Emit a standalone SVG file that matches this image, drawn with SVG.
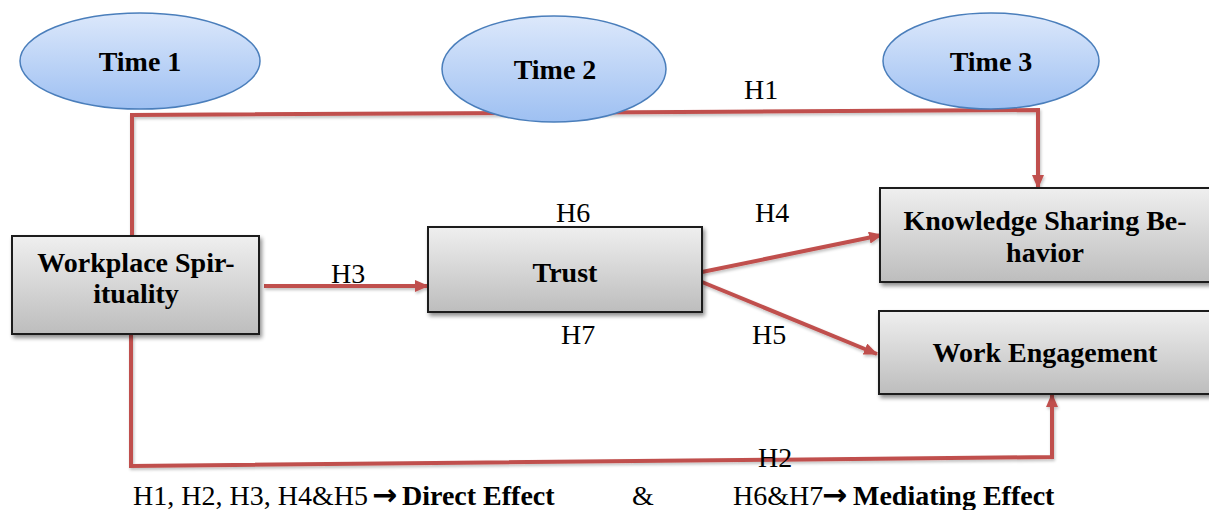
<svg xmlns="http://www.w3.org/2000/svg" width="1209" height="510" viewBox="0 0 1209 510">
<style>
  text { font-family: "Liberation Serif", "Times New Roman", serif; font-size: 28px; fill: #000; }
  .b { font-weight: bold; }
  .arr { font-family: "DejaVu Sans", sans-serif; font-weight: bold; font-size: 30px; }
  .ell { fill: url(#gEll); stroke: #4A7EBB; stroke-width: 1.5; }
  .box { fill: url(#gBox); stroke: #1a1a1a; stroke-width: 2; filter: url(#sh); }
  .con { fill: none; stroke: #C0504D; stroke-width: 4; stroke-linejoin: miter; }
</style>
<defs>
  <linearGradient id="gEll" x1="0" y1="0" x2="0" y2="1">
    <stop offset="0" stop-color="#DCE8FB"/>
    <stop offset="1" stop-color="#9EC0F2"/>
  </linearGradient>
  <linearGradient id="gBox" x1="0" y1="0" x2="0" y2="1">
    <stop offset="0" stop-color="#EFEFEF"/>
    <stop offset="1" stop-color="#BDBDBD"/>
  </linearGradient>
  <filter id="sh" x="-10%" y="-10%" width="130%" height="140%">
    <feGaussianBlur in="SourceAlpha" stdDeviation="2"/>
    <feOffset dx="2" dy="3" result="o"/>
    <feComponentTransfer><feFuncA type="linear" slope="0.45"/></feComponentTransfer>
    <feMerge><feMergeNode/><feMergeNode in="SourceGraphic"/></feMerge>
  </filter>
  <filter id="lsh" filterUnits="userSpaceOnUse" x="0" y="0" width="1209" height="510">
    <feGaussianBlur in="SourceAlpha" stdDeviation="1.5"/>
    <feOffset dx="1" dy="2" result="o"/>
    <feComponentTransfer><feFuncA type="linear" slope="0.25"/></feComponentTransfer>
    <feMerge><feMergeNode/><feMergeNode in="SourceGraphic"/></feMerge>
  </filter>
  <marker id="ah" markerUnits="userSpaceOnUse" markerWidth="14" markerHeight="12" refX="13" refY="6" orient="auto">
    <path d="M0,0 L14,6 L0,12 z" fill="#C0504D"/>
  </marker>
</defs>

<g id="connectors" filter="url(#lsh)">
  <polyline id="c-h1" class="con" points="132,236 132,115 1038,110 1038,188" marker-end="url(#ah)"/>
  <polyline id="c-h2" class="con" points="131,334 131,466 1052,457 1052,394" marker-end="url(#ah)"/>
  <line id="c-h3" class="con" x1="264" y1="286" x2="428" y2="286" marker-end="url(#ah)"/>
  <line id="c-h4" class="con" x1="702" y1="272" x2="882" y2="235" marker-end="url(#ah)"/>
  <line id="c-h5" class="con" x1="702" y1="282" x2="877" y2="354" marker-end="url(#ah)"/>
</g>

<g id="time1">
  <ellipse class="ell" cx="140" cy="61" rx="120" ry="48"/>
  <text class="b" x="140" y="71" text-anchor="middle">Time 1</text>
</g>
<g id="time2">
  <ellipse class="ell" cx="554" cy="69" rx="112" ry="53"/>
  <text class="b" x="555" y="79" text-anchor="middle">Time 2</text>
</g>
<g id="time3">
  <ellipse class="ell" cx="991" cy="61" rx="108" ry="48"/>
  <text class="b" x="991" y="71" text-anchor="middle">Time 3</text>
</g>

<g id="workplace-spirituality">
  <rect class="box" x="12" y="236" width="247" height="98"/>
  <text class="b" x="136" y="272" text-anchor="middle">Workplace Spir-</text>
  <text class="b" x="136" y="303" text-anchor="middle">ituality</text>
</g>
<g id="trust">
  <rect class="box" x="428" y="227" width="274" height="85"/>
  <text class="b" x="565" y="282" text-anchor="middle">Trust</text>
</g>
<g id="knowledge-sharing">
  <rect class="box" x="880" y="188" width="334" height="94"/>
  <text class="b" x="1045" y="230" text-anchor="middle">Knowledge Sharing Be-</text>
  <text class="b" x="1045" y="262" text-anchor="middle">havior</text>
</g>
<g id="work-engagement">
  <rect class="box" x="879" y="311" width="335" height="83"/>
  <text class="b" x="1045" y="362" text-anchor="middle">Work Engagement</text>
</g>

<g id="labels">
  <text x="744" y="99">H1</text>
  <text x="331" y="283">H3</text>
  <text x="556" y="222">H6</text>
  <text x="755" y="222">H4</text>
  <text x="561" y="344">H7</text>
  <text x="752" y="344">H5</text>
  <text x="758" y="467">H2</text>
</g>

<g id="legend">
  <text x="133" y="505">H1, H2, H3, H4&amp;H5<tspan class="arr" x="372">→</tspan><tspan class="b" x="402">Direct Effect</tspan></text>
  <text x="632" y="505">&amp;</text>
  <text x="733" y="505">H6&amp;H7<tspan class="arr" x="822">→</tspan><tspan class="b" x="853">Mediating Effect</tspan></text>
</g>
</svg>
